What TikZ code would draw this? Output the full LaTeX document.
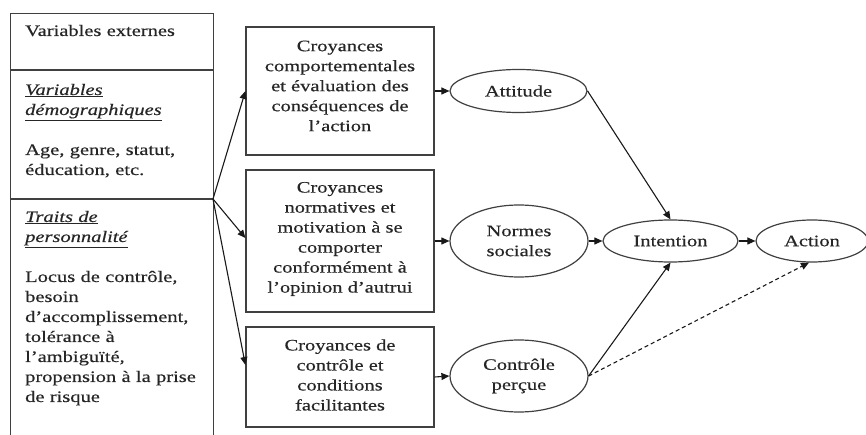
\documentclass[tikz,border=0pt]{standalone}
\usepackage{fontspec}
\setmainfont{Liberation Serif}[FakeStretch=1.28,FakeBold=0.4]
\usetikzlibrary{shapes.geometric,arrows.meta,calc}
\begin{document}
\begin{tikzpicture}[x=1pt,y=-1pt,
  every node/.style={font=\fontsize{16}{20}\selectfont, text=black!85},
  boxstyle/.style={draw=black!75, line width=1.2pt, rectangle, inner sep=0pt},
  ellstyle/.style={draw=black!75, line width=1.2pt, ellipse, inner sep=0pt, align=center},
  txt/.style={align=center, inner sep=0pt},
  lefttxt/.style={align=left, inner sep=0pt, text width=190pt, anchor=base west},
  arr/.style={draw=black!90, line width=1.1pt, -{Triangle[length=8pt,width=7pt]}},
  darr/.style={arr, dashed, dash pattern=on 4pt off 3pt}]
\useasboundingbox (0,0) rectangle (866,435);
% left box
\node[boxstyle, minimum width=203pt, minimum height=440pt, anchor=north west] (ext) at (10,13) {};
\coordinate (d1w) at (10,70);
\coordinate (d1e) at (213,70);
\coordinate (d2w) at (10,199);
\coordinate (src) at (213,199);
\draw[draw=black!75, line width=1.2pt] (d1w) -- (d1e);
\draw[draw=black!75, line width=1.2pt] (d2w) -- (src);
\node[lefttxt] (t1) at (25,36) {Variables externes};
\node[lefttxt] (t2) at (25,95) {\underline{\textit{Variables}}\\\underline{\textit{démographiques}}\\[20pt]Age, genre, statut,\\éducation, etc.};
\node[lefttxt] (t3) at (25,222) {\underline{\textit{Traits de}}\\\underline{\textit{personnalité}}\\[20pt]Locus de contrôle,\\besoin\\d’accomplissement,\\tolérance à\\l’ambiguïté,\\propension à la prise\\de risque};
% middle boxes
\node[boxstyle, minimum width=188pt, minimum height=128pt] (b1) at (340,91) {};
\node[txt] (b1t) at (340,86) {Croyances\\comportementales\\et évaluation des\\conséquences de\\l’action};
\node[boxstyle, minimum width=188pt, minimum height=142pt] (b2) at (340,241) {};
\node[txt] (b2t) at (340,239) {Croyances\\normatives et\\motivation à se\\comporter\\conformément à\\l’opinion d’autrui};
\node[boxstyle, minimum width=188pt, minimum height=100pt] (b3) at (340,377) {};
\node[txt] (b3t) at (340,375) {Croyances de\\contrôle et\\conditions\\facilitantes};
% ellipses
\node[ellstyle, minimum width=137pt, minimum height=43pt] (att) at (518.5,91) {Attitude};
\node[ellstyle, minimum width=138pt, minimum height=72pt] (norm) at (519,241) {Normes\\sociales};
\node[ellstyle, minimum width=138pt, minimum height=72pt] (ctrl) at (519,376) {Contrôle\\perçue};
\node[ellstyle, minimum width=135pt, minimum height=42pt] (int) at (670.5,241) {Intention};
\node[ellstyle, minimum width=112pt, minimum height=42pt] (act) at (812,241) {Action};
% arrows
\draw[arr] (src) -- (b1.west);
\draw[arr] (src) -- ($(b2.west)+(0,-3)$);
\draw[arr] (src) -- ($(b3.west)+(0,-12)$);
\draw[arr] (b1.east) -- (att.west);
\draw[arr] (b2.east) -- (norm.west);
\draw[arr] (b3.east) -- (ctrl.west);
\draw[arr] (att.east) -- (int.north);
\draw[arr] (norm.east) -- (int.west);
\draw[arr] (ctrl.east) -- (int.south);
\draw[arr] (int.east) -- (act.west);
\draw[darr] (ctrl.east) -- ($(act.south)+(-3,0)$);
\end{tikzpicture}
\end{document}
